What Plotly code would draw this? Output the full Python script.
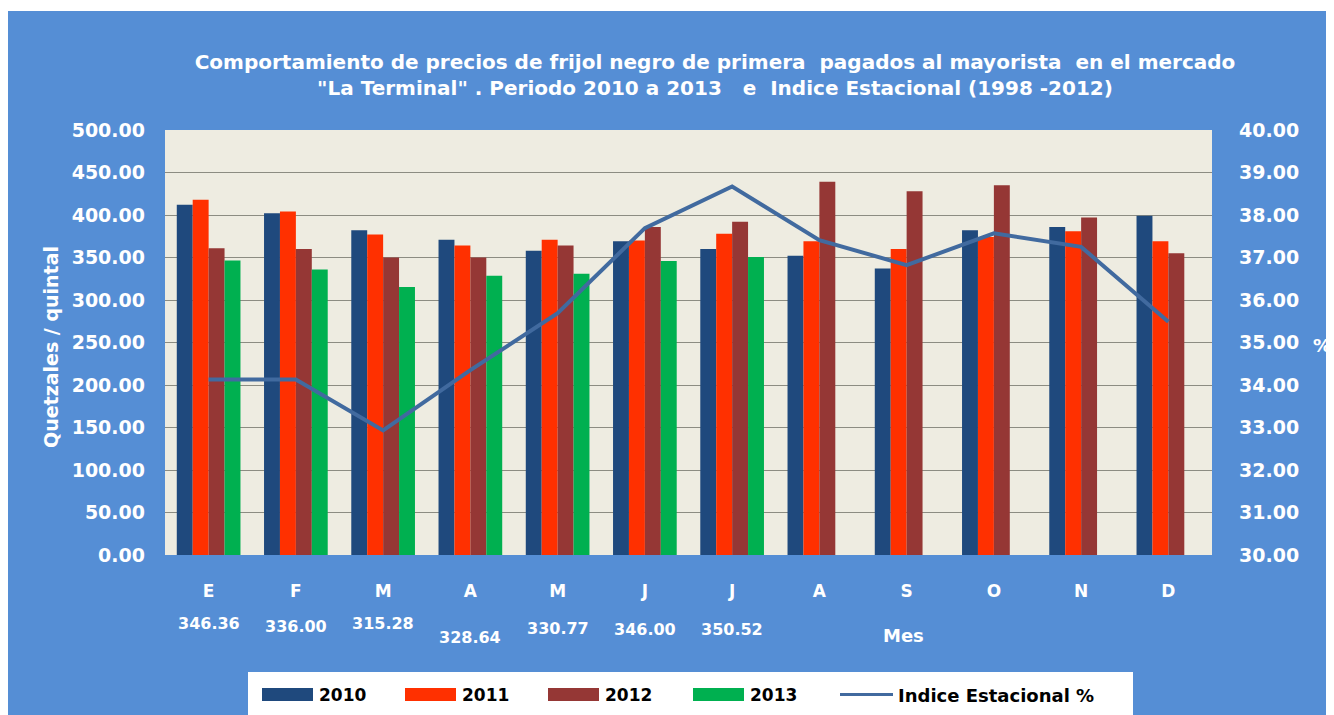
import plotly.graph_objects as go

months = ["E", "F", "M", "A", "M", "J", "J", "A", "S", "O", "N", "D"]
p2010 = [412, 402, 382, 371, 358, 369, 360, 352, 337, 382, 386, 399]
p2011 = [418, 404, 377, 364, 371, 370, 378, 369, 360, 374, 381, 369]
p2012 = [361, 360, 350, 350, 364, 386, 392, 439, 428, 435, 397, 355]
p2013 = [346.36, 336.00, 315.28, 328.64, 330.77, 346.00, 350.52, None, None, None, None, None]
indice = [34.13, 34.13, 32.93, 34.35, 35.69, 37.69, 38.67, 37.41, 36.82, 37.57, 37.25, 35.49]
series_names = ["2010", "2011", "2012", "2013"]
colors = ["#1F497D", "#FF3000", "#953735", "#00B050"]
line_color = "#416A9F"
label_y_px = [623, 626, 623, 637, 628, 629, 629]

PAGE_W, PAGE_H = 1334, 715
OFF = 8  # default page margin of the html body
L, R, T, B = 165, 1212, 130, 555  # plot area in page pixels
BLUE = "#558ED5"
FONT = "DejaVu Sans"


def px(x):
    return (x - L) / (R - L)


def py(y):
    return (B - y) / (B - T)


def bold(size, color="white"):
    return dict(family=FONT, size=size, color=color, weight="bold")


x = list(range(len(months)))
fig = go.Figure()
for name, vals, c in zip(series_names, [p2010, p2011, p2012, p2013], colors):
    fig.add_trace(go.Bar(x=x, y=vals, name=name, marker=dict(color=c, line=dict(width=0)),
                         showlegend=False))
fig.add_trace(go.Scatter(x=x, y=indice, name="Indice Estacional %", yaxis="y2", mode="lines",
                         line=dict(color=line_color, width=4), showlegend=False))

shapes = []
annotations = []

# thin white strip at the very top
shapes.append(dict(type="rect", xref="paper", yref="paper", x0=px(0), x1=px(PAGE_W), y0=py(11), y1=py(0),
                   fillcolor="white", line=dict(width=0), layer="below"))

# 2013 values under month labels
for i, v in enumerate([v for v in p2013 if v is not None]):
    annotations.append(dict(x=i, y=py(label_y_px[i]), xref="x", yref="paper", text=f"{v:.2f}",
                            xanchor="center", yanchor="middle", showarrow=False, font=bold(16)))

annotations.append(dict(x=px(903), y=py(635), xref="paper", yref="paper", text="Mes", showarrow=False,
                        xanchor="center", yanchor="middle", font=bold(18)))
annotations.append(dict(x=px(51), y=py(347), xref="paper", yref="paper", text="Quetzales / quintal",
                        textangle=-90, showarrow=False, xanchor="center", yanchor="middle", font=bold(19)))
annotations.append(dict(x=px(1322), y=py(345), xref="paper", yref="paper", text="%", showarrow=False,
                        xanchor="center", yanchor="middle", font=bold(18)))

# custom legend
shapes.append(dict(type="rect", xref="paper", yref="paper", x0=px(248), x1=px(1133), y0=py(720), y1=py(672),
                   fillcolor="white", line=dict(width=0)))
sw_x = [262, 405, 548, 693]
for sx, name, c in zip(sw_x, series_names, colors):
    shapes.append(dict(type="rect", xref="paper", yref="paper", x0=px(sx), x1=px(sx + 51),
                       y0=py(701), y1=py(688), fillcolor=c, line=dict(width=0)))
    annotations.append(dict(x=px(sx + 55), y=py(695), xref="paper", yref="paper", text=name,
                            xanchor="left", yanchor="middle", showarrow=False, font=bold(17, "black")))
shapes.append(dict(type="line", xref="paper", yref="paper", x0=px(840), x1=px(893), y0=py(694.5), y1=py(694.5),
                   line=dict(color=line_color, width=3)))
annotations.append(dict(x=px(896), y=py(695), xref="paper", yref="paper", text="Indice Estacional %",
                        xanchor="left", yanchor="middle", showarrow=False, font=bold(18, "black")))

fig_w, fig_h = PAGE_W - OFF, PAGE_H - OFF
fig.update_layout(
    width=fig_w, height=fig_h,
    margin=dict(l=L - OFF, r=PAGE_W - R, t=T - OFF, b=PAGE_H - B, pad=0),
    paper_bgcolor=BLUE, plot_bgcolor="#EEECE1",
    barmode="group", bargap=0.27, bargroupgap=0,
    title=dict(text="Comportamiento de precios de frijol negro de primera  pagados al mayorista  en el mercado<br>"
                    "\"La Terminal\" . Periodo 2010 a 2013   e  Indice Estacional (1998 -2012)",
               x=(715 - OFF) / fig_w, xanchor="center", y=1 - (69 - OFF) / fig_h, yanchor="middle",
               yref="container", font=bold(20)),
    xaxis=dict(range=[-0.5, 11.5], tickvals=x, ticktext=months, showgrid=False, zeroline=False,
               ticks="", ticklabelstandoff=24, tickfont=bold(17)),
    yaxis=dict(range=[0, 500], dtick=50, tickformat=".2f", showgrid=True, gridcolor="#8C8C82",
               gridwidth=1, zeroline=False, ticks="", ticklabelstandoff=19, tickfont=bold(19)),
    yaxis2=dict(range=[30, 40], dtick=1, tickformat=".2f", overlaying="y", side="right",
                showgrid=False, zeroline=False, ticks="", ticklabelstandoff=26, tickfont=bold(19)),
    shapes=shapes, annotations=annotations, showlegend=False,
)

fig.write_html("out.html")
